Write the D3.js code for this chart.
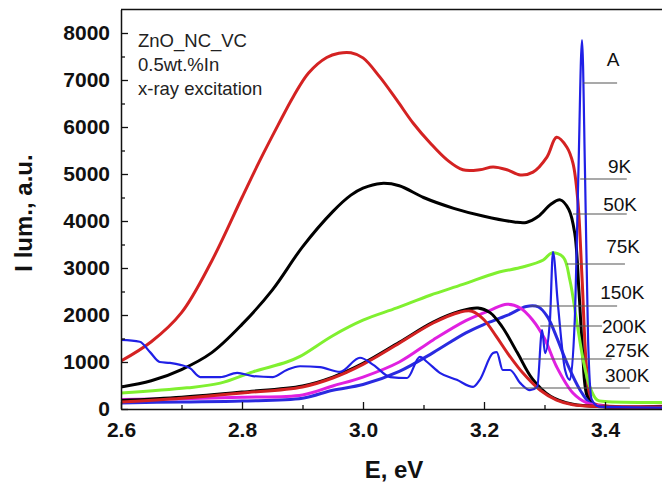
<!DOCTYPE html>
<html lang="en">
<head>
    <meta charset="UTF-8">
    <title>ZnO luminescence</title>
    <style>
        body { margin: 0; background: #fff; }
        svg { display: block; font-family: "Liberation Sans", Arial, sans-serif; }
    </style>
</head>
<body>
    <div id="chart"></div>

    <script src="https://d3js.org/d3.v7.min.js"></script>
    <script>
        // spectra: [E (eV), I lum (a.u.)]
        var k9 = [[2.6,1020],[2.65,1430],[2.7,2050],[2.75,3150],[2.8,4500],[2.83,5300],[2.86,6050],
            [2.885,6650],[2.91,7150],[2.94,7480],[2.96,7570],[2.98,7580],[3.0,7470],[3.028,7060],[3.056,6570],
            [3.083,6080],[3.111,5660],[3.139,5300],[3.165,5090],[3.193,5090],[3.215,5150],[3.238,5090],
            [3.26,4980],[3.281,5040],[3.304,5360],[3.32,5780],[3.337,5570],[3.347,5230],[3.355,4450],
            [3.362,2800],[3.37,800],[3.378,150],[3.4,70],[3.5,60]];
        var k50 = [[2.6,470],[2.65,600],[2.7,840],[2.75,1200],[2.8,1800],[2.85,2530],[2.9,3450],[2.95,4200],
            [2.98,4550],[3.0,4700],[3.03,4800],[3.06,4750],[3.1,4500],[3.15,4270],[3.2,4100],[3.25,3980],[3.27,3970],
            [3.29,4100],[3.31,4350],[3.326,4450],[3.34,4250],[3.35,3740],[3.357,2500],[3.363,1200],
            [3.37,300],[3.38,100],[3.5,50]];
        var k75 = [[2.6,340],[2.709,450],[2.764,550],[2.818,790],[2.874,1000],[2.896,1120],[2.95,1560],
            [3.0,1890],[3.056,2150],[3.111,2420],[3.165,2650],[3.221,2900],[3.264,3020],[3.298,3170],
            [3.312,3320],[3.331,3230],[3.342,2740],[3.353,1890],[3.364,1040],[3.375,470],[3.387,190],
            [3.4,160],[3.5,140]];
        var k150 = [[2.6,130],[2.7,150],[2.8,170],[2.9,230],[2.95,400],[3.0,520],[3.06,800],[3.116,1200],
            [3.17,1620],[3.2,1800],[3.238,1990],[3.27,2180],[3.29,2170],[3.305,1960],[3.32,1530],
            [3.337,980],[3.359,400],[3.375,130],[3.4,50],[3.5,30]];
        var k200 = [[2.6,200],[2.7,220],[2.8,250],[2.9,300],[2.95,490],[3.0,680],[3.06,1000],[3.116,1470],
            [3.17,1880],[3.21,2100],[3.238,2230],[3.26,2150],[3.28,1900],[3.3,1500],[3.32,900],
            [3.347,340],[3.37,130],[3.4,60],[3.5,40]];
        var k275 = [[2.6,180],[2.7,250],[2.8,360],[2.9,490],[2.95,680],[3.0,970],[3.06,1420],[3.116,1850],
            [3.16,2080],[3.19,2150],[3.21,2050],[3.23,1750],[3.255,1200],[3.28,640],[3.31,270],
            [3.347,100],[3.4,50],[3.5,40]];
        var k300 = [[2.6,150],[2.7,230],[2.8,340],[2.9,470],[2.95,660],[3.0,950],[3.06,1400],[3.116,1830],
            [3.16,2060],[3.18,2080],[3.2,1900],[3.22,1550],[3.24,1170],[3.264,770],[3.293,400],
            [3.32,190],[3.347,90],[3.4,50],[3.5,40]];
        var curveA = [[2.6,1470],[2.631,1430],[2.648,1210],[2.664,1000],[2.681,980],[2.698,940],[2.714,870],
            [2.731,680],[2.764,680],[2.792,770],[2.818,700],[2.851,680],[2.874,830],[2.896,910],[2.929,890],
            [2.962,790],[2.995,1090],[3.017,940],[3.045,680],[3.073,660],[3.094,1110],[3.106,1000],
            [3.127,770],[3.155,620],[3.182,470],[3.193,620],[3.215,1190],[3.221,1210],[3.231,830],
            [3.243,830],[3.26,550],[3.276,400],[3.288,470],[3.296,1680],[3.301,1190],[3.309,1890],
            [3.314,3340],[3.322,2250],[3.334,830],[3.342,620],[3.35,1890],[3.356,5000],[3.362,7850],
            [3.367,5000],[3.372,1500],[3.378,200],[3.39,50],[3.5,30]];

        var seriesNames = ["9K", "50K", "75K", "150K", "200K", "275K", "300K", "A"];
        var seriesData = [k9, k50, k75, k150, k200, k275, k300, curveA];
        var seriesColors = ["#d42222", "#000000", "#80f030", "#2a2ae0", "#e020e0", "#000000", "#d42222", "#2020e6"];

        // side labels: text position and leader line (E from, E to, I)
        var labelNames = ["A", "9K", "50K", "75K", "150K", "200K", "275K", "300K"];
        var labelE = [3.403, 3.405, 3.397, 3.402, 3.392, 3.395, 3.400, 3.400];
        var labelI = [7298, 5021, 4213, 3319, 2340, 1617, 1106, 574];
        var leaderE0 = [3.364, 3.359, 3.347, 3.337, 3.276, 3.293, 3.264, 3.243];
        var leaderE1 = [3.420, 3.436, 3.436, 3.433, 3.420, 3.395, 3.411, 3.441];
        var leaderI = [6936, 4894, 4149, 3085, 2191, 1766, 1064, 447];

        var infoLines = ["ZnO_NC_VC", "0.5wt.%In", "x-ray excitation"];

        var margin = {top: 9, left: 121},
            width = 662, height = 485,
            plotH = 400;

        var svg = d3.select("#chart").append("svg")
            .attr("width", width)
            .attr("height", height);

        var x = d3.scaleLinear().domain([2.6, 3.5]).range([margin.left, margin.left + 0.9 * 605]);
        var y = d3.scaleLinear().domain([0, 8500]).range([margin.top + plotH, margin.top + plotH - 8500 * 0.047]);

        svg.append("clipPath").attr("id", "plot")
            .append("rect")
            .attr("x", margin.left).attr("y", margin.top)
            .attr("width", width - margin.left).attr("height", plotH);

        // curves (the sharp A spectrum keeps monotone interpolation so the spikes don't overshoot)
        var smooth = d3.line()
            .x(function(d) { return x(d[0]); })
            .y(function(d) { return y(d[1]); })
            .curve(d3.curveCatmullRom.alpha(0.5));
        var sharp = d3.line()
            .x(function(d) { return x(d[0]); })
            .y(function(d) { return y(d[1]); })
            .curve(d3.curveMonotoneX);

        var g = svg.append("g").attr("clip-path", "url(#plot)");
        seriesData.forEach(function(s, i) {
            var isA = seriesNames[i] == "A";
            g.append("path")
                .datum(s)
                .attr("d", isA ? sharp : smooth)
                .attr("fill", "none")
                .attr("stroke", seriesColors[i])
                .attr("stroke-width", isA ? 2.2 : 3)
                .attr("stroke-linejoin", "round");
        });

        // axes, ticks pointing inside
        svg.append("g")
            .attr("transform", "translate(" + margin.left + ",0)")
            .call(d3.axisLeft(y).tickValues(d3.range(0, 8001, 1000)).tickFormat(d3.format("d"))
                .tickSize(-7).tickSizeOuter(0).tickPadding(11));
        svg.append("g")
            .attr("transform", "translate(" + margin.left + ",0)")
            .call(d3.axisLeft(y).tickValues(d3.range(500, 7501, 1000)).tickSize(-4).tickSizeOuter(0).tickFormat(""))
            .select(".domain").remove();

        svg.append("g")
            .attr("transform", "translate(0," + (margin.top + plotH) + ")")
            .call(d3.axisBottom(x).tickValues([2.6, 2.8, 3.0, 3.2, 3.4]).tickFormat(d3.format(".1f"))
                .tickSize(-7).tickSizeOuter(0).tickPadding(13));
        svg.append("g")
            .attr("transform", "translate(0," + (margin.top + plotH) + ")")
            .call(d3.axisBottom(x).tickValues([2.7, 2.9, 3.1, 3.3]).tickSize(-4).tickSizeOuter(0).tickFormat(""))
            .select(".domain").remove();

        svg.selectAll(".tick line").attr("stroke", "#111").attr("stroke-width", 1.3);
        svg.selectAll(".domain").attr("stroke", "#111").attr("stroke-width", 1.5);
        svg.selectAll(".tick text")
            .attr("fill", "#111")
            .style("font-family", '"Liberation Sans", Arial, sans-serif')
            .style("font-size", "21px")
            .style("font-weight", "bold");

        // top frame
        svg.append("line")
            .attr("x1", margin.left).attr("x2", width)
            .attr("y1", margin.top + 0.5).attr("y2", margin.top + 0.5)
            .attr("stroke", "#111").attr("stroke-width", 1.5);

        // axis titles
        svg.append("text")
            .attr("x", 394).attr("y", 478)
            .attr("text-anchor", "middle")
            .style("font-size", "24px").style("font-weight", "bold")
            .attr("fill", "#111")
            .text("E, eV");
        svg.append("text")
            .attr("transform", "translate(32,213) rotate(-90)")
            .attr("text-anchor", "middle")
            .style("font-size", "24px").style("font-weight", "bold")
            .attr("fill", "#111")
            .text("I lum., a.u.");

        // sample info
        infoLines.forEach(function(t, i) {
            svg.append("text")
                .attr("x", 138).attr("y", 47 + i * 24)
                .style("font-size", "18.5px")
                .attr("fill", "#222")
                .text(t);
        });

        // leader lines and labels
        labelNames.forEach(function(t, i) {
            svg.append("line")
                .attr("x1", x(leaderE0[i])).attr("x2", x(leaderE1[i]))
                .attr("y1", y(leaderI[i])).attr("y2", y(leaderI[i]))
                .attr("stroke", "#555").attr("stroke-width", 1.2);
            svg.append("text")
                .attr("x", x(labelE[i])).attr("y", y(labelI[i]))
                .style("font-size", "19px")
                .attr("fill", "#111")
                .text(t);
        });
    </script>
</body>
</html>
